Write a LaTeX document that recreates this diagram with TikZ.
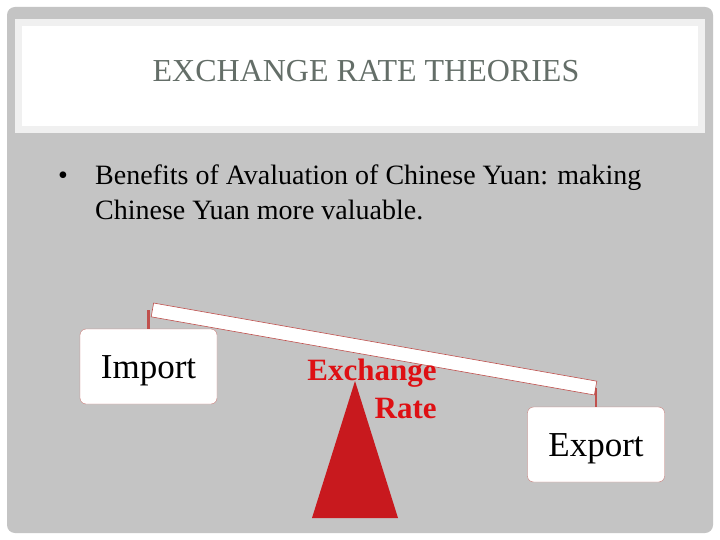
\documentclass[tikz,border=0pt]{standalone}
\usepackage{fontspec}
\setmainfont{Liberation Serif}
\usetikzlibrary{positioning}

\definecolor{slidegray}{RGB}{196,196,196}
\definecolor{titlegray}{RGB}{100,110,104}
\definecolor{boxline}{RGB}{200,124,120}
\definecolor{stubred}{RGB}{192,80,77}
\definecolor{fulcrum}{RGB}{200,25,30}
\definecolor{ratered}{RGB}{222,16,20}

\begin{document}
\begin{tikzpicture}[
    x=1pt, y=-1pt,
    sidebox/.style={rectangle, rounded corners=6pt, draw=boxline, fill=white, minimum width=137pt, minimum height=75pt, text height=24pt, text depth=0pt, font=\fontsize{35}{40}\selectfont},
    plank/.style={rectangle, draw=stubred, fill=white, minimum width=450pt, minimum height=14pt, inner sep=0pt, line width=0.6pt},
    stub/.style={draw=stubred, line width=2.5pt},
    bodytext/.style={anchor=base west, inner sep=0pt, font=\fontsize{28}{32}\selectfont}
]
    \useasboundingbox (0,0) rectangle (720,540);

    % Slide background and title panel
    \fill[white] (0,0) rectangle (720,540);
    \fill[slidegray, rounded corners=8pt] (7,7) rectangle (713,533);
    \fill[white!88!gray] (15,19) rectangle (705,133);
    \fill[white] (22,26) rectangle (698,126);
    \node[text=titlegray, font=\fontsize{32}{36}\selectfont] (title) at (366,71) {EXCHANGE RATE THEORIES};

    % Bullet text
    \node[bodytext] (dot) at (58,185) {\textbullet};
    \node[bodytext] (line1) at (95,185) {Benefits of Avaluation of Chinese Yuan: making};
    \node[bodytext] (line2) at (95,219) {Chinese Yuan more valuable.};

    % Balance
    \node[plank, rotate=-10] (beam) at (374,349) {};
    \node[sidebox] (import) at (148.5,366.5) {Import};
    \node[sidebox] (export) at (596,444.5) {Export};

    \coordinate (apex) at (355,381);
    \coordinate (baseL) at (312,518);
    \coordinate (baseR) at (398,518);
    \fill[fulcrum] (apex) -- (baseL) -- (baseR) -- cycle;

    \node[text=ratered, font=\bfseries\fontsize{31}{38}\selectfont, align=right] (rate) at (372,389) {Exchange\\Rate};

    % Hangers
    \draw[stub] (import.north) -- (import.north |- beam.west);
    \draw[stub] (export.north) -- (export.north |- beam.east);

\end{tikzpicture}
\end{document}
